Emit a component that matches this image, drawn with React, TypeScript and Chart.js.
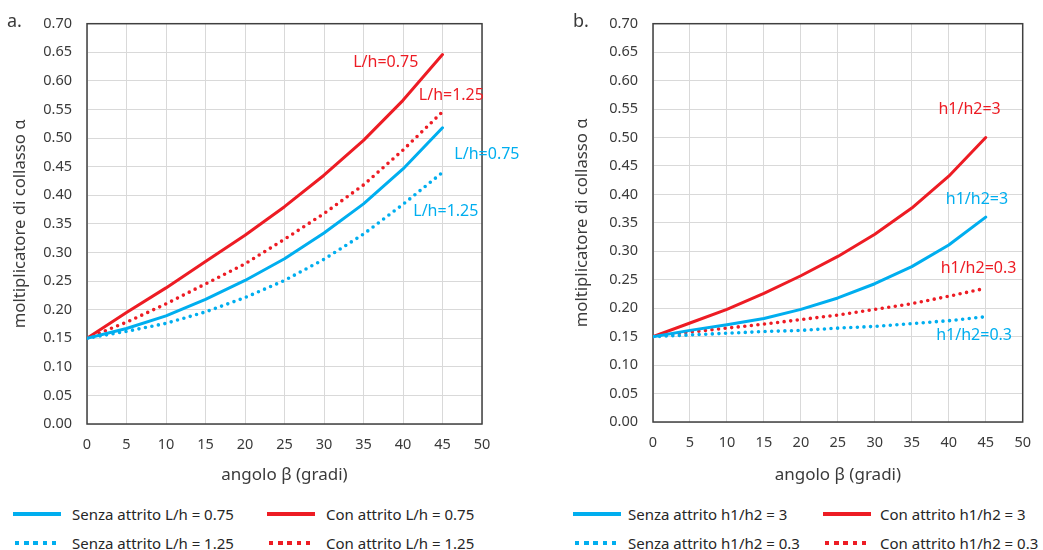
import { useEffect, useRef } from 'react';
import { Chart, registerables } from 'chart.js';

Chart.register(...registerables);

// ---------- data ----------
const angles = [0, 5, 10, 15, 20, 25, 30, 35, 40, 45];

// panel a
const aSenza075 = [0.150, 0.167, 0.189, 0.218, 0.251, 0.289, 0.334, 0.385, 0.446, 0.518];
const aSenza125 = [0.150, 0.162, 0.176, 0.196, 0.221, 0.251, 0.288, 0.332, 0.384, 0.440];
const aCon075 = [0.150, 0.195, 0.238, 0.284, 0.330, 0.380, 0.435, 0.496, 0.566, 0.646];
const aCon125 = [0.150, 0.178, 0.210, 0.245, 0.280, 0.323, 0.368, 0.418, 0.479, 0.546];

// panel b
const bSenza3 = [0.150, 0.161, 0.171, 0.182, 0.198, 0.218, 0.243, 0.273, 0.311, 0.360];
const bSenza03 = [0.150, 0.153, 0.156, 0.159, 0.161, 0.165, 0.168, 0.173, 0.178, 0.185];
const bCon3 = [0.150, 0.174, 0.198, 0.226, 0.257, 0.291, 0.330, 0.376, 0.432, 0.500];
const bCon03 = [0.150, 0.158, 0.165, 0.172, 0.180, 0.188, 0.198, 0.208, 0.221, 0.235];

const xTickStep = 5;
const yTickStep = 0.05;
const xMax = 50;
const yMax = 0.7;

const labelsA = [
  'Senza attrito L/h = 0.75',
  'Con attrito L/h = 0.75',
  'Senza attrito L/h = 1.25',
  'Con attrito L/h = 1.25',
];
const labelsB = [
  'Senza attrito h1/h2 = 3',
  'Con attrito h1/h2 = 3',
  'Senza attrito h1/h2 = 0.3',
  'Con attrito h1/h2 = 0.3',
];

// in-plot annotations (data coordinates: angle, alpha)
const annotationsA = [
  { text: 'L/h=0.75', x: 33.7, y: 0.633, color: 'red' },
  { text: 'L/h=1.25', x: 42.0, y: 0.574, color: 'red' },
  { text: 'L/h=0.75', x: 46.5, y: 0.471, color: 'blue' },
  { text: 'L/h=1.25', x: 41.3, y: 0.371, color: 'blue' },
];
const annotationsB = [
  { text: 'h1/h2=3', x: 38.6, y: 0.549, color: 'red' },
  { text: 'h1/h2=3', x: 39.6, y: 0.391, color: 'blue' },
  { text: 'h1/h2=0.3', x: 38.9, y: 0.270, color: 'red' },
  { text: 'h1/h2=0.3', x: 38.3, y: 0.152, color: 'blue' },
];

// ---------- style ----------
const RED = '#ED1C24';
const BLUE = '#00AEEF';
const GRID = '#D9D9D9';
const FRAME = '#404040';
const TEXT = '#3A3A3A';
const FONT = '"Noto Sans", sans-serif';
const colorOf = (c: string) => (c === 'red' ? RED : BLUE);

const toPoints = (ys: number[]) => ys.map((y, i) => ({ x: angles[i], y }));

function solid(label: string, ys: number[], color: string) {
  return {
    label,
    data: toPoints(ys),
    borderColor: color,
    backgroundColor: color,
    borderWidth: 3,
    pointRadius: 0,
    tension: 0,
    borderCapStyle: 'round' as const,
    borderJoinStyle: 'round' as const,
  };
}
function dotted(label: string, ys: number[], color: string) {
  return {
    label,
    data: toPoints(ys),
    borderColor: color,
    backgroundColor: color,
    borderWidth: 3.6,
    borderDash: [0, 6.6],
    borderCapStyle: 'round' as const,
    pointRadius: 0,
    tension: 0,
  };
}

const framePlugin = {
  id: 'frame',
  beforeDatasetsDraw(chart: any) {
    const { ctx, chartArea } = chart;
    ctx.save();
    ctx.strokeStyle = FRAME;
    ctx.lineWidth = 1.5;
    ctx.strokeRect(chartArea.left, chartArea.top, chartArea.right - chartArea.left, chartArea.bottom - chartArea.top);
    ctx.restore();
  },
};

function annotationPlugin(anns: { text: string; x: number; y: number; color: string }[], panel: string, panelX: number) {
  return {
    id: 'annotations',
    afterDatasetsDraw(chart: any) {
      const { ctx, scales } = chart;
      ctx.save();
      ctx.font = `16px ${FONT}`;
      ctx.textAlign = 'left';
      ctx.textBaseline = 'middle';
      for (const a of anns) {
        ctx.fillStyle = colorOf(a.color);
        ctx.fillText(a.text, scales.x.getPixelForValue(a.x), scales.y.getPixelForValue(a.y));
      }
      ctx.font = `18px ${FONT}`;
      ctx.fillStyle = TEXT;
      ctx.textBaseline = 'alphabetic';
      ctx.fillText(panel, panelX, 27);
      ctx.restore();
    },
  };
}

function makeConfig(
  datasets: any[],
  anns: any[],
  panel: string,
  panelX: number,
  pad: { left: number; right: number },
  yWidth: number,
  xHeight: number,
) {
  return {
    type: 'line' as const,
    data: { datasets },
    options: {
      animation: false as const,
      responsive: false,
      maintainAspectRatio: false,
      layout: { padding: { left: pad.left, right: pad.right, top: 15, bottom: 0 } },
      plugins: { legend: { display: false }, tooltip: { enabled: false } },
      scales: {
        x: {
          type: 'linear' as const,
          min: 0,
          max: xMax,
          ticks: { stepSize: xTickStep, padding: 12, color: TEXT, font: { family: FONT, size: 14.5 } },
          grid: { color: GRID, lineWidth: 1, drawTicks: false },
          border: { display: false },
          title: {
            display: true,
            text: 'angolo β (gradi)',
            color: TEXT,
            font: { family: FONT, size: 17 },
            padding: { top: 0, bottom: 7 },
          },
          afterFit: (s: any) => {
            s.height = xHeight;
          },
        },
        y: {
          type: 'linear' as const,
          min: 0,
          max: yMax,
          ticks: {
            stepSize: yTickStep,
            padding: 15,
            color: TEXT,
            font: { family: FONT, size: 14.5 },
            callback: (v: any) => Number(v).toFixed(2),
          },
          grid: { color: GRID, lineWidth: 1, drawTicks: false },
          border: { display: false },
          title: {
            display: true,
            text: 'moltiplicatore di collasso α',
            color: TEXT,
            font: { family: FONT, size: 16.7 },
            padding: { top: 10.5, bottom: 0 },
          },
          afterFit: (s: any) => {
            s.width = yWidth;
          },
        },
      },
    },
    plugins: [framePlugin, annotationPlugin(anns, panel, panelX)],
  };
}

type LegendEntry = { label: string; color: string; dotted: boolean };

function LegendItem({ e, lineX, textX, y }: { e: LegendEntry; lineX: number; textX: number; y: number }) {
  const sample: any = e.dotted
    ? {
        position: 'absolute',
        left: lineX + 2,
        top: y - 2,
        width: 42,
        height: 4.3,
        background: `repeating-linear-gradient(to right, ${e.color} 0px, ${e.color} 4.4px, transparent 4.4px, transparent 9.2px)`,
      }
    : { position: 'absolute', left: lineX, top: y - 2, width: 48, height: 4, background: e.color };
  return (
    <>
      <div style={sample} />
      <div
        style={{
          position: 'absolute',
          left: textX,
          top: y - 10,
          height: 20,
          lineHeight: '20px',
          fontFamily: FONT,
          fontSize: 15,
          color: '#262626',
          whiteSpace: 'nowrap',
        }}
      >
        {e.label}
      </div>
    </>
  );
}

function Panel({ config, left, width, height }: { config: any; left: number; width: number; height: number }) {
  const ref = useRef<HTMLCanvasElement>(null);
  useEffect(() => {
    if (!ref.current) return;
    const chart = new Chart(ref.current, config);
    return () => chart.destroy();
  }, [config]);
  return (
    <canvas
      ref={ref}
      width={width}
      height={height}
      style={{ position: 'absolute', left, top: 0, width, height }}
    />
  );
}

const configA = makeConfig(
  [
    solid(labelsA[0], aSenza075, BLUE),
    dotted(labelsA[2], aSenza125, BLUE),
    dotted(labelsA[3], aCon125, RED),
    solid(labelsA[1], aCon075, RED),
  ],
  annotationsA,
  'a.',
  7,
  { left: 0, right: 63 },
  87,
  68,
);
const configB = makeConfig(
  [
    solid(labelsB[0], bSenza3, BLUE),
    dotted(labelsB[2], bSenza03, BLUE),
    dotted(labelsB[3], bCon03, RED),
    solid(labelsB[1], bCon3, RED),
  ],
  annotationsB,
  'b.',
  28,
  { left: 17, right: 17 },
  91,
  70,
);

const legendA: LegendEntry[] = [
  { label: labelsA[0], color: BLUE, dotted: false },
  { label: labelsA[1], color: RED, dotted: false },
  { label: labelsA[2], color: BLUE, dotted: true },
  { label: labelsA[3], color: RED, dotted: true },
];
const legendB: LegendEntry[] = [
  { label: labelsB[0], color: BLUE, dotted: false },
  { label: labelsB[1], color: RED, dotted: false },
  { label: labelsB[2], color: BLUE, dotted: true },
  { label: labelsB[3], color: RED, dotted: true },
];

export default function App() {
  const rows = [514, 543];
  const colsA = [
    { line: 13, text: 72 },
    { line: 267, text: 326 },
  ];
  const colsB = [
    { line: 573, text: 628 },
    { line: 823, text: 880 },
  ];
  return (
    <div style={{ position: 'fixed', left: 0, top: 0, width: 1043, height: 550, overflow: 'hidden', background: '#fff' }}>
      <Panel config={configA} left={0} width={545} height={492} />
      <Panel config={configB} left={545} width={498} height={492} />
      {legendA.map((e, i) => (
        <LegendItem key={'a' + i} e={e} lineX={colsA[i % 2].line} textX={colsA[i % 2].text} y={rows[Math.floor(i / 2)]} />
      ))}
      {legendB.map((e, i) => (
        <LegendItem key={'b' + i} e={e} lineX={colsB[i % 2].line} textX={colsB[i % 2].text} y={rows[Math.floor(i / 2)]} />
      ))}
    </div>
  );
}
